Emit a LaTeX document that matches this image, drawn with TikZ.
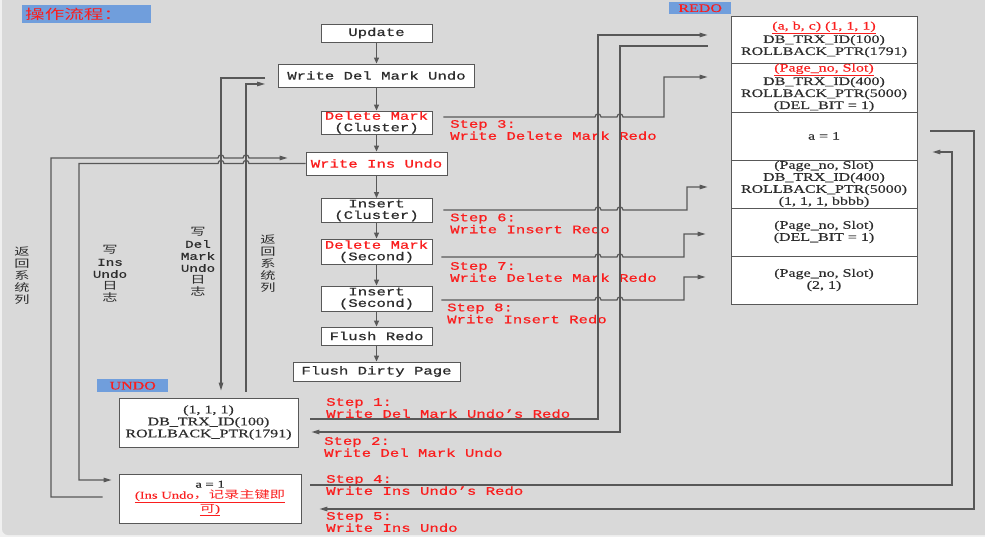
\documentclass[tikz,border=0pt]{standalone}
\usepackage{fontspec}
\usepackage{tikz}
\usetikzlibrary{calc,positioning,arrows.meta}
\setmainfont[FakeStretch=1.39,FakeBold=0.3]{Liberation Serif}
\newfontfamily\flowfont[FakeStretch=1.36,FakeBold=0.8]{Liberation Mono}
\newfontfamily\cjk[FakeStretch=1.45]{Noto Sans CJK SC}
\definecolor{bggray}{RGB}{217,217,217}
\definecolor{lblblue}{RGB}{112,158,220}
\definecolor{redtxt}{RGB}{250,30,30}
\definecolor{txtgray}{RGB}{45,45,45}
\definecolor{linegray}{RGB}{88,88,88}
\tikzset{
    box/.style={draw=linegray, line width=0.9pt, fill=white, inner sep=0pt, align=center, text=txtgray}, % white boxes
    flowbox/.style={box, font=\flowfont\fontsize{11.5}{11.5}\selectfont},            % boxes of the flow
    cell/.style={box, minimum width=186pt, font=\fontsize{11.5}{12}\selectfont},    % redo and undo records
    flow/.style={draw=linegray, line width=1.2pt, -{Triangle[length=6pt,width=5pt]}},
    linkto/.style={draw=linegray, line width=1.2pt, -{Triangle[length=8pt,width=4.5pt]}},
    steptext/.style={anchor=west, align=left, inner sep=0pt, text=redtxt, font=\flowfont\fontsize{11.5}{12}\selectfont},
    tag/.style={fill=lblblue, inner sep=0pt, text=redtxt},                          % blue headings
    sidetext/.style={align=center, inner sep=0pt, text=txtgray, font=\cjk\fontsize{10.5}{12}\selectfont}
}
\begin{document}
\begin{tikzpicture}[x=1pt,y=-1pt]
                    \useasboundingbox (0,0) rectangle (985,537);
                    \fill[gray!12] (0,0) rectangle (985,537);
                    \fill[bggray,rounded corners=6pt] (2,-6) rectangle (991,535);

                    % headings
                    \node[tag, anchor=north west, minimum width=129pt, minimum height=18pt, text width=123pt, align=left,
                          font=\cjk\fontsize{13.5}{13.5}\selectfont] (title) at (22,5) {操作流程：};
                    \node[tag, anchor=north west, minimum width=62pt, minimum height=12pt,
                          font=\fontsize{11.5}{11.5}\selectfont] (redolbl) at (669,2) {REDO};
                    \node[tag, anchor=north west, minimum width=71pt, minimum height=13pt,
                          font=\fontsize{11.5}{11.5}\selectfont] (undolbl) at (97,379) {UNDO};

                    % the flow
                    \node[flowbox, minimum width=111pt, minimum height=18pt] (upd) at (376.5,33) {Update};
                    \node[flowbox, minimum width=196pt, minimum height=23pt] (wdmu) at (376.5,75.5) {Write Del Mark Undo};
                    \node[flowbox, minimum width=111pt, minimum height=23pt] (dmc) at (376.5,122.5) {\textcolor{redtxt}{Delete Mark}\\(Cluster)};
                    \node[flowbox, minimum width=141pt, minimum height=23pt, text=redtxt] (wiu) at (376.5,163.5) {Write Ins Undo};
                    \node[flowbox, minimum width=111pt, minimum height=24pt] (insc) at (376.5,210.5) {Insert\\(Cluster)};
                    \node[flowbox, minimum width=111pt, minimum height=25pt] (dms) at (376.5,251.5) {\textcolor{redtxt}{Delete Mark}\\(Second)};
                    \node[flowbox, minimum width=111pt, minimum height=25pt] (inss) at (376.5,298.5) {Insert\\(Second)};
                    \node[flowbox, minimum width=111pt, minimum height=18pt] (fr) at (376.5,336) {Flush Redo};
                    \node[flowbox, minimum width=167pt, minimum height=19pt] (fdp) at (376.5,371.5) {Flush Dirty Page};
                    \foreach \a/\b in {upd/wdmu,wdmu/dmc,dmc/wiu,wiu/insc,insc/dms,dms/inss,inss/fr,fr/fdp}
                    {
                        \draw[flow] (\a) -- (\b);
                    }

                    % redo records
                    \node[cell, minimum height=47pt] (r1) at (824,39.5) {\textcolor{redtxt}{\underline{(a,~b,~c)~(1,~1,~1)}}\\DB\_TRX\_ID(100)\\ROLLBACK\_PTR(1791)};
                    \node[cell, minimum height=49pt] (r2) at (824,87.5) {\textcolor{redtxt}{\underline{(Page\_no,~Slot)}}\\DB\_TRX\_ID(400)\\ROLLBACK\_PTR(5000)\\(DEL\_BIT = 1)};
                    \node[cell, minimum height=48pt] (r3) at (824,136) {a = 1};
                    \node[cell, minimum height=48pt] (r4) at (824,184) {(Page\_no,~Slot)\\DB\_TRX\_ID(400)\\ROLLBACK\_PTR(5000)\\(1,~1,~1,~bbbb)};
                    \node[cell, minimum height=48pt] (r5) at (824,232) {(Page\_no,~Slot)\\(DEL\_BIT = 1)};
                    \node[cell, minimum height=48pt] (r6) at (824,280) {(Page\_no,~Slot)\\(2,~1)};

                    % undo records
                    \node[cell, minimum width=179pt, minimum height=49pt] (u1) at (208.5,422.5) {(1,~1,~1)\\DB\_TRX\_ID(100)\\ROLLBACK\_PTR(1791)};
                    \node[cell, minimum width=182pt, minimum height=49pt, font=\fontsize{10.5}{11}\selectfont] (u2) at (210,498.5)
                        {a = 1\\\textcolor{redtxt}{\underline{(Ins Undo{\cjk ，记录主键即}}}\\\textcolor{redtxt}{\underline{{\cjk 可})}}};

                    % side texts
                    \node[sidetext] (ret1) at (22,276) {返\\回\\系\\统\\列};
                    \node[sidetext] (wiulog) at (110,274) {写\\{\flowfont Ins}\\{\flowfont Undo}\\日\\志};
                    \node[sidetext] (wdmulog) at (198,262) {写\\{\flowfont Del}\\{\flowfont Mark}\\{\flowfont Undo}\\日\\志};
                    \node[sidetext] (ret2) at (268,264) {返\\回\\系\\统\\列};

                    % step texts
                    \node[steptext] (st1) at (326,408) {Step 1:\\Write Del Mark Undo’s Redo};
                    \node[steptext] (st2) at (324,447) {Step 2:\\Write Del Mark Undo};
                    \node[steptext] (st3) at (450,130) {Step 3:\\Write Delete Mark Redo};
                    \node[steptext] (st4) at (326,485) {Step 4:\\Write Ins Undo’s Redo};
                    \node[steptext] (st5) at (326,522) {Step 5:\\Write Ins Undo};
                    \node[steptext] (st6) at (450,223.5) {Step 6:\\Write Insert Redo};
                    \node[steptext] (st7) at (450,272) {Step 7:\\Write Delete Mark Redo};
                    \node[steptext] (st8) at (447,313.5) {Step 8:\\Write Insert Redo};

                    % undo log lines on the left
                    \draw[linkto] ([xshift=-16pt,yshift=1.5pt]u2.west) -| (51,158) -- (218,158)
                        .. controls (218,154) and (224,154) .. (224,158) -- (243,158)
                        .. controls (243,154) and (249,154) .. (249,158) -- ([xshift=-18pt,yshift=5.5pt]wiu.west);
                    \draw[linkto] (wiu.west) -- (249,163.5)
                        .. controls (249,159.5) and (243,159.5) .. (243,163.5) -- (224,163.5)
                        .. controls (224,159.5) and (218,159.5) .. (218,163.5) -| (79,480) -- ([xshift=-7pt,yshift=18.5pt]u2.west);
                    \draw[linkto] ([xshift=-13pt,yshift=-2.5pt]wdmu.west) -| ([xshift=12.5pt,yshift=7pt]u1.north);
                    \draw[linkto] ([xshift=37.5pt,yshift=6pt]u1.north) |- ([xshift=-13pt,yshift=-8.5pt]wdmu.west);

                    % steps 1 and 2
                    \draw[linkto] ([xshift=12pt,yshift=3.5pt]u1.east) -| (598,35) -- ([xshift=-23pt,yshift=4.5pt]r1.west);
                    \draw[linkto] ([xshift=-23pt,yshift=-6.5pt]r1.west) -| (620,432) -- ([xshift=13pt,yshift=-9.5pt]u1.east);

                    % steps 3, 6, 7, 8
                    \draw[linkto] ([xshift=11pt,yshift=5.5pt]dmc.east) -- (595,117)
                        .. controls (595,113) and (601,113) .. (601,117) -- (617,117)
                        .. controls (617,113) and (623,113) .. (623,117) -| (664,77) -- ([xshift=-23pt,yshift=10.5pt]r2.west);
                    \draw[linkto] ([xshift=11pt,yshift=0.5pt]insc.east) -- (595,210)
                        .. controls (595,206) and (601,206) .. (601,210) -- (617,210)
                        .. controls (617,206) and (623,206) .. (623,210) -| (687,187) -- ([xshift=-23pt,yshift=-3pt]r4.west);
                    \draw[linkto] ([xshift=9pt,yshift=-5.5pt]dms.east) -- (595,257)
                        .. controls (595,253) and (601,253) .. (601,257) -- (617,257)
                        .. controls (617,253) and (623,253) .. (623,257) -| (684,234) -- ([xshift=-25pt,yshift=-2pt]r5.west);
                    \draw[linkto] ([xshift=9pt,yshift=-1.5pt]inss.east) -- (595,300)
                        .. controls (595,296) and (601,296) .. (601,300) -- (617,300)
                        .. controls (617,296) and (623,296) .. (623,300) -| (684,277) -- ([xshift=-25pt,yshift=3pt]r6.west);

                    % steps 4 and 5
                    \draw[linkto] ([xshift=9pt,yshift=13.5pt]u2.east) -| (952,152) -- ([xshift=15pt,yshift=-16pt]r3.east);
                    \draw[linkto] ([xshift=13pt,yshift=5pt]r3.east) -| (974,509) -- ([xshift=18pt,yshift=-10.5pt]u2.east);
                \end{tikzpicture}
\end{document}
